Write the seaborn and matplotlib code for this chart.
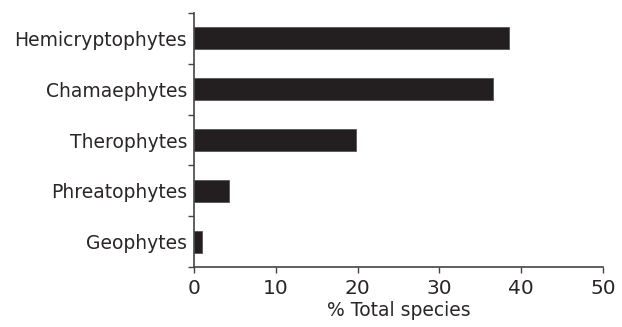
import matplotlib
matplotlib.use("Agg")
import matplotlib.pyplot as plt
import seaborn as sns
import pandas as pd
import numpy as np

categories = ["Hemicryptophytes", "Chamaephytes", "Therophytes", "Phreatophytes", "Geophytes"]
values = [38.5, 36.6, 19.8, 4.3, 1.0]
xticks = [0, 10, 20, 30, 40, 50]

sns.set_theme(style="white")
plt.rcParams['font.family'] = ['DejaVu Sans']

df = pd.DataFrame({"category": categories, "value": values})

fig = plt.figure(figsize=(6.22, 3.27), dpi=100)
ax = fig.add_axes([194/622, 60/327, (603-194)/622, (267-13)/327])
sns.barplot(data=df, x="value", y="category", orient="h", color="#231f20",
            width=0.43, ax=ax, saturation=1, edgecolor="#555555", linewidth=0.6)

ax.set_xlim(0, 50)
ax.set_ylim(len(categories) - 0.5, -0.5)
ax.set_xticks(xticks)
ax.set_xticklabels([str(t) for t in xticks], fontsize=14.5, color="#2a2627")
ax.set_yticks(range(len(categories)))
ax.set_yticklabels(categories, fontsize=13.5, color="#2a2627")
ax.set_yticks(np.arange(-0.5, len(categories), 1.0), minor=True)
ax.tick_params(axis="y", which="major", length=0, pad=5)
ax.tick_params(axis="y", which="minor", length=4, width=1, color="#444444", left=True, direction="out")
ax.tick_params(axis="x", which="major", length=4, width=1, color="#444444", bottom=True, direction="out", pad=5)
ax.set_xlabel("% Total species", fontsize=13.5, color="#2a2627", labelpad=2)
ax.set_ylabel("")
for s in ["top", "right"]:
    ax.spines[s].set_visible(False)
for s in ["left", "bottom"]:
    ax.spines[s].set_color("#444444")
    ax.spines[s].set_linewidth(1.2)

fig.savefig("out.png", dpi=100)
